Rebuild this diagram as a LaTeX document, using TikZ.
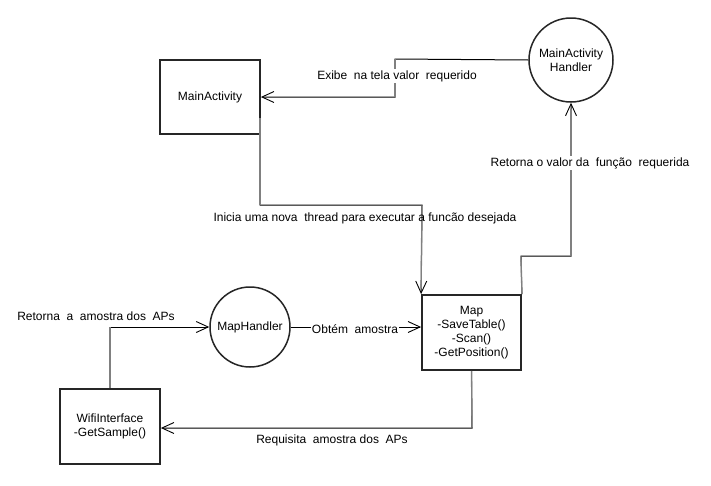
\documentclass[tikz,border=0pt]{standalone}
\usepackage{fontspec}
\setmainfont{Liberation Sans}
\usetikzlibrary{arrows.meta}
\begin{document}
\begin{tikzpicture}[x=1pt,y=-1pt,
  font=\fontsize{12}{14}\selectfont,
  box/.style={draw=black!85,line width=1.8pt,rectangle,align=center,inner sep=0pt},
  ball/.style={draw=black!85,line width=1.5pt,circle,align=center,inner sep=0pt},
  conn/.style={draw=black,line width=1pt,-{Straight Barb[length=12pt,width=11pt,line width=0.9pt]}},
  vseg/.style={draw=black!50,line width=1.3pt},
  lbl/.style={inner sep=1pt,align=center},
  lblw/.style={lbl,fill=white}]
\useasboundingbox[fill=white] (0,0) rectangle (711,485);

\node[box,minimum width=100pt,minimum height=74pt] (ma) at (210,97) {MainActivity};
\node[ball,minimum size=84pt] (mah) at (571,60) {MainActivity\\Handler};
\node[box,minimum width=99pt,minimum height=75pt] (map) at (471.5,332.5) {Map\\-SaveTable()\\-Scan()\\-GetPosition()};
\node[ball,minimum size=80pt] (mh) at (250,327) {MapHandler};
\node[box,minimum width=100pt,minimum height=75pt] (wifi) at (110,426.5) {WifiInterface\\-GetSample()};

\coordinate (a1) at (395,59);
\coordinate (a2) at (395,97);
\coordinate (b0) at (260,118);
\coordinate (b1) at (260,205);
\coordinate (b2) at (422,205);
\coordinate (c1) at (521,256);
\coordinate (c2) at (571,256);
\coordinate (e1) at (110,327);
\coordinate (f1) at (472,428);

% Exibe
\draw[conn] (mah.west) -- (a1) -- (a2) -- (ma.east);
\draw[vseg] (a1) -- (a2);
\node[lblw] (l1) at (397,76) {Exibe\ \ na tela valor\ \ requerido};

% Inicia
\draw[conn] (b0) -- (b1) -- (b2) -- (map.north west);
\draw[vseg] (b0) -- (b1);
\draw[vseg] (b2) -- ([yshift=6pt]map.north west);
\node[lbl] (l2) at (365,218) {Inicia uma nova\ \ thread para executar a funcão desejada};

% Retorna valor
\draw[conn] (map.north east) -- (c1) -- (c2) -- (mah.south);
\draw[vseg] (map.north east) -- (c1);
\draw[vseg] (c2) -- ([yshift=-6pt]mah.south);
\node[lblw] (l3) at (590,163) {Retorna o valor da\ \ função\ \ requerida};

% Obtem
\draw[conn] (mh.east) -- (map.west |- mh.east);
\node[lblw] (l4) at (355,329) {Obtém\ \ amostra};

% Retorna amostra
\draw[conn] (wifi.north) -- (e1) -- (mh.west);
\draw[vseg] (wifi.north) -- (e1);
\node[lbl] (l5) at (96,316) {Retorna\ \ a\ \ amostra dos\ \ APs};

% Requisita
\draw[conn] (map.south) -- (f1) -- (wifi.east |- f1);
\draw[vseg] (map.south) -- (f1);
\node[lbl] (l6) at (332,440) {Requisita\ \ amostra dos\ \ APs};
\end{tikzpicture}
\end{document}
